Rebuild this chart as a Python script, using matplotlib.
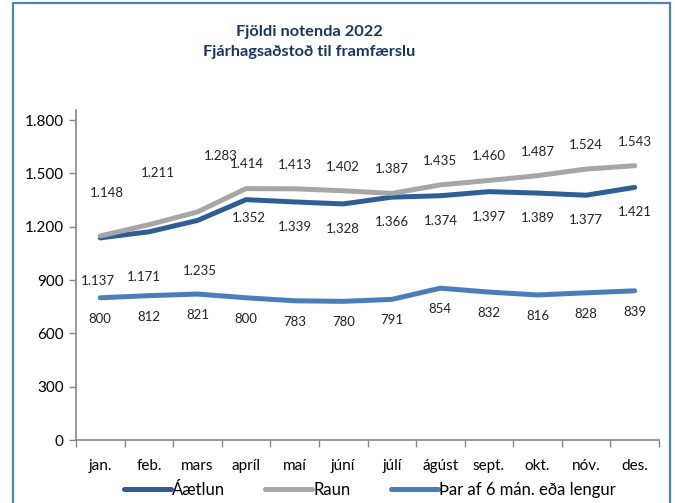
import matplotlib
matplotlib.use("Agg")
import matplotlib.pyplot as plt
from matplotlib.patches import Rectangle
import numpy as np

# data
months = ["jan.", "feb.", "mars", "apríl", "maí", "júní", "júlí", "ágúst", "sept.", "okt.", "nóv.", "des."]
aaetlun = [1137, 1171, 1235, 1352, 1339, 1328, 1366, 1374, 1397, 1389, 1377, 1421]
raun = [1148, 1211, 1283, 1414, 1413, 1402, 1387, 1435, 1460, 1487, 1524, 1543]
lengur = [800, 812, 821, 800, 783, 780, 791, 854, 832, 816, 828, 839]
series_names = ["Áætlun", "Raun", "Þar af 6 mán. eða lengur"]

# label offsets in pixels (dx, dy), like the hand-moved labels in the original
raun_off = [(7, 43), (9, 52), (23, 56), (1, 25)] + [(0, 24)] * 8
aaetlun_off = [(-2, -43), (-5, -45), (2, -51), (3, -18)] + [(0, -25)] * 8
lengur_off = [(0, -21)] * 12

c_aaetlun = "#2F5E97"
c_raun = "#A6A6A6"
c_lengur = "#4A7EBB"
c_axis = "#868686"
c_title = "#17375E"

plt.rcParams['font.family'] = ['Lato', 'DejaVu Sans']

W, H = 675, 503
fig = plt.figure(figsize=(W / 100, H / 100), dpi=100)

# outer chart frame
fig.add_artist(Rectangle((12.5 / W, -0.05), (670 - 12.5) / W, 1.05 - 3.5 / H,
                         transform=fig.transFigure, fill=False, ec="#4F81BD", lw=1.6))

ax_l, ax_r, ax_t, ax_b = 76, 659, 110, 440
ax = fig.add_axes([ax_l / W, (H - ax_b) / H, (ax_r - ax_l) / W, (ax_b - ax_t) / H])

x = np.arange(len(months))
ax.plot(x, aaetlun, color=c_aaetlun, lw=3.6, label=series_names[0], solid_capstyle="round")
ax.plot(x, raun, color=c_raun, lw=3.6, label=series_names[1], solid_capstyle="round")
ax.plot(x, lengur, color=c_lengur, lw=3.6, label=series_names[2], solid_capstyle="round")

def fmt(v):
    return f"{v:,}".replace(",", ".")

for vals, offs in [(raun, raun_off), (aaetlun, aaetlun_off), (lengur, lengur_off)]:
    for i, v in enumerate(vals):
        ax.annotate(fmt(v), (x[i], v), xytext=offs[i], textcoords="offset pixels",
                    ha="center", va="center", fontsize=9.5, color="#222222")

ax.set_xlim(-0.5, len(months) - 0.5)
ax.set_ylim(0, 1800 + 300 * 10 / 53.3)
ax.set_yticks(range(0, 1801, 300))
ax.set_yticklabels([fmt(v) for v in range(0, 1801, 300)], fontsize=11)
ax.set_xticks(x)
ax.set_xticklabels(months, fontsize=11)
ax.set_xticks(np.arange(len(months) + 1) - 0.5, minor=True)
ax.tick_params(axis="x", which="major", length=0, pad=14)
ax.tick_params(axis="x", which="minor", length=5, color=c_axis, width=1)
ax.tick_params(axis="y", length=5, color=c_axis, width=1, pad=4)

for s in ["top", "right"]:
    ax.spines[s].set_visible(False)
for s in ["left", "bottom"]:
    ax.spines[s].set_color(c_axis)
    ax.spines[s].set_linewidth(1.2)

fig.text(309 / W, 1 - 32 / H, "Fjöldi notenda 2022", ha="center", va="center",
         fontsize=11.8, fontweight="bold", color=c_title)
fig.text(309 / W, 1 - 52 / H, "Fjárhagsaðstoð til framfærslu", ha="center", va="center",
         fontsize=11.8, fontweight="bold", color=c_title)

fig.legend(loc="center", bbox_to_anchor=(370 / W, 1 - 490 / H), ncol=3, frameon=False,
           fontsize=12, handlelength=2.8, handletextpad=0.1, columnspacing=2.4)

fig.savefig("out.png", dpi=100)
